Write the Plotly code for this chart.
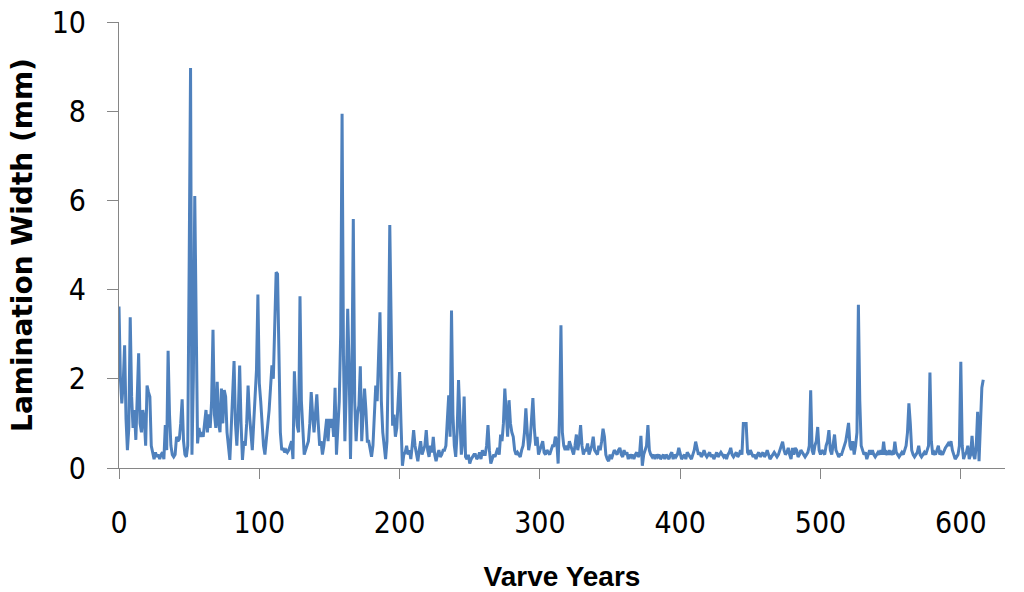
import plotly.graph_objects as go

# Lamination width (mm) per varve year
width_0_99 = [
    3.62, 2.0, 1.45, 1.9, 2.75, 1.1, 0.4, 0.9, 3.38, 1.6,
    0.9, 1.3, 0.63, 1.7, 2.57, 1.0, 0.8, 1.3, 1.1, 0.5,
    1.85, 1.7, 1.6, 0.5, 0.3, 0.2, 0.35, 0.25, 0.3, 0.2,
    0.3, 0.35, 0.2, 0.96, 0.4, 2.63, 1.2, 0.5, 0.3, 0.25,
    0.3, 0.7, 0.6, 0.65, 1.0, 1.54, 0.6, 0.3, 0.25, 0.5,
    4.5, 8.97, 0.3, 2.0, 6.1, 3.64, 0.55, 0.9, 0.7, 0.8,
    0.7, 1.0, 1.3, 0.8, 1.2, 0.9, 1.5, 3.1, 1.2, 0.9,
    1.93, 1.0, 0.8, 1.78, 1.0, 1.75, 1.6, 0.8, 0.5, 0.18,
    0.9, 1.5, 2.4, 1.0, 0.5, 1.2, 2.3, 1.0, 0.18, 0.6,
    0.5, 1.0, 1.85, 1.2, 0.8, 0.4, 1.0, 1.5, 2.2, 3.89,
]
width_100_199 = [
    1.9, 1.5, 1.0, 0.5, 0.3, 0.6, 1.0, 1.3, 1.8, 2.3,
    2.0, 3.0, 4.39, 4.35, 2.5, 0.8, 0.4, 0.45, 0.35, 0.4,
    0.35, 0.4, 0.5, 0.6, 0.2, 2.17, 1.4, 0.95, 0.8, 3.85,
    1.5, 0.8, 0.3, 0.4, 0.5, 0.6, 1.0, 1.7, 1.2, 0.8,
    1.2, 1.65, 1.0, 0.5, 0.6, 0.3, 0.5, 0.8, 1.1, 0.6,
    1.1, 0.9, 1.1, 0.7, 1.8, 0.3, 0.8, 1.5, 3.0, 7.94,
    2.5, 0.6, 1.8, 3.57, 2.3, 0.2, 2.0, 5.58, 1.5, 0.6,
    1.2, 1.4, 2.28, 0.6, 1.2, 1.78, 1.3, 0.6, 0.6, 0.4,
    0.25, 0.5, 1.2, 1.85, 1.5, 2.5, 3.49, 1.5, 0.8, 0.5,
    0.2, 0.6, 2.5, 5.45, 2.9, 0.95, 1.2, 0.7, 0.9, 1.5,
]
width_200_299 = [
    2.15, 1.0, 0.05, 0.3, 0.35, 0.5, 0.3, 0.4, 0.2, 0.5,
    0.85, 0.5, 0.3, 0.15, 0.4, 0.6, 0.3, 0.4, 0.5, 0.85,
    0.4, 0.25, 0.5, 0.35, 0.7, 0.3, 0.15, 0.3, 0.4, 0.25,
    0.3, 0.4, 0.4, 0.5, 1.0, 1.63, 0.7, 3.53, 1.2, 0.5,
    0.25, 0.8, 1.97, 1.0, 0.3, 0.6, 1.6, 0.25, 0.2, 0.3,
    0.1, 0.2, 0.25, 0.3, 0.3, 0.2, 0.25, 0.35, 0.2, 0.4,
    0.3, 0.3, 0.5, 0.96, 0.4, 0.1, 0.2, 0.3, 0.25, 0.35,
    0.45, 0.3, 0.75, 0.6, 1.0, 1.78, 1.1, 0.7, 1.52, 1.0,
    0.8, 0.7, 0.4, 0.3, 0.35, 0.3, 0.25, 0.4, 0.5, 0.8,
    1.34, 0.8, 0.4, 0.6, 1.0, 1.57, 0.9, 0.5, 0.7, 0.3,
]
width_300_399 = [
    0.4, 0.5, 0.6, 0.35, 0.3, 0.4, 0.35, 0.3, 0.4, 0.5,
    0.5, 0.7, 0.6, 0.1, 1.2, 3.2, 0.8, 0.5, 0.4, 0.5,
    0.4, 0.6, 0.5, 0.4, 0.3, 0.5, 0.75, 0.4, 0.6, 0.96,
    0.5, 0.3, 0.4, 0.4, 0.55, 0.3, 0.4, 0.5, 0.7, 0.4,
    0.35, 0.3, 0.5, 0.4, 0.6, 0.88, 0.7, 0.3, 0.2, 0.15,
    0.3, 0.2, 0.3, 0.4, 0.35, 0.3, 0.4, 0.45, 0.3, 0.25,
    0.4, 0.3, 0.35, 0.2, 0.3, 0.25, 0.3, 0.2, 0.3, 0.35,
    0.25, 0.3, 0.72, 0.05, 0.3, 0.4, 0.5, 0.96, 0.4, 0.3,
    0.25, 0.3, 0.2, 0.3, 0.25, 0.3, 0.2, 0.25, 0.3, 0.2,
    0.3, 0.25, 0.2, 0.3, 0.35, 0.2, 0.3, 0.25, 0.3, 0.45,
]
width_400_499 = [
    0.3, 0.2, 0.25, 0.3, 0.2, 0.35, 0.3, 0.25, 0.2, 0.3,
    0.4, 0.59, 0.45, 0.3, 0.35, 0.25, 0.3, 0.4, 0.3, 0.25,
    0.3, 0.35, 0.25, 0.3, 0.2, 0.3, 0.35, 0.25, 0.3, 0.35,
    0.3, 0.25, 0.3, 0.2, 0.3, 0.35, 0.45, 0.3, 0.25, 0.3,
    0.35, 0.25, 0.3, 0.4, 0.3, 1.0, 1.0, 1.0, 0.35, 0.3,
    0.4, 0.3, 0.25, 0.3, 0.2, 0.3, 0.35, 0.25, 0.3, 0.35,
    0.25, 0.3, 0.4, 0.3, 0.2, 0.25, 0.3, 0.35, 0.3, 0.25,
    0.3, 0.4, 0.45, 0.59, 0.4, 0.3, 0.35, 0.45, 0.3, 0.2,
    0.45, 0.3, 0.45, 0.4, 0.25, 0.3, 0.4, 0.35, 0.3, 0.25,
    0.3, 0.35, 0.5, 1.74, 0.4, 0.3, 0.5, 0.6, 0.92, 0.4,
]
width_500_616 = [
    0.3, 0.4, 0.35, 0.3, 0.5, 0.6, 0.85, 0.4, 0.3, 0.5,
    0.75, 0.4, 0.3, 0.25, 0.3, 0.3, 0.4, 0.5, 0.6, 0.8,
    1.01, 0.5, 0.4, 0.6, 0.3, 0.5, 0.8, 3.66, 1.5, 0.5,
    0.4, 0.3, 0.35, 0.2, 0.3, 0.4, 0.3, 0.4, 0.3, 0.25,
    0.3, 0.35, 0.3, 0.4, 0.3, 0.59, 0.3, 0.35, 0.3, 0.4,
    0.3, 0.35, 0.3, 0.59, 0.35, 0.3, 0.25, 0.3, 0.35, 0.3,
    0.4, 0.5, 0.8, 1.45, 1.0, 0.4, 0.3, 0.25, 0.3, 0.35,
    0.5, 0.3, 0.25, 0.3, 0.35, 0.3, 0.4, 0.5, 2.14, 0.6,
    0.3, 0.35, 0.3, 0.4, 0.5, 0.3, 0.35, 0.3, 0.4, 0.45,
    0.5, 0.55, 0.5, 0.6, 0.4, 0.3, 0.2, 0.25, 0.3, 0.5,
    2.38, 0.5, 0.2, 0.3, 0.35, 0.5, 0.2, 0.3, 0.72, 0.3,
    0.2, 0.5, 1.26, 0.15, 1.2, 1.8, 1.98,
]

lamination_width = (width_0_99 + width_100_199 + width_200_299
                     + width_300_399 + width_400_499 + width_500_616)
varve_years = list(range(len(lamination_width)))

x_tick_values = [0, 100, 200, 300, 400, 500, 600]
y_tick_values = [0, 2, 4, 6, 8, 10]

TICK_FONT = "DejaVu Sans Condensed, Liberation Sans Narrow, sans-serif"
AXIS_COLOR = "#868686"

fig = go.Figure()
fig.add_trace(go.Scatter(
    x=varve_years,
    y=lamination_width,
    mode="lines",
    line=dict(color="#4F81BD", width=3),
    showlegend=False,
))

fig.update_layout(
    width=1024,
    height=592,
    margin=dict(l=119, r=19, t=22, b=124),
    paper_bgcolor="white",
    plot_bgcolor="white",
    xaxis=dict(
        range=[0, 631.5],
        tickvals=x_tick_values,
        ticks="outside",
        ticklen=10,
        tickcolor=AXIS_COLOR,
        showline=True,
        linecolor=AXIS_COLOR,
        linewidth=1,
        showgrid=False,
        zeroline=False,
        automargin=False,
        tickfont=dict(family=TICK_FONT, size=30, color="#000000"),
        ticklabelstandoff=18,
        title=dict(text="<b>Varve Years</b>",
                   font=dict(family="Liberation Sans, Arial, sans-serif",
                             size=28, color="#000000"),
                   standoff=27),
    ),
    yaxis=dict(
        range=[0, 10],
        tickvals=y_tick_values,
        ticks="outside",
        ticklen=11,
        tickcolor=AXIS_COLOR,
        showline=True,
        linecolor=AXIS_COLOR,
        linewidth=1,
        showgrid=False,
        zeroline=False,
        automargin=False,
        tickfont=dict(family=TICK_FONT, size=30, color="#000000"),
        ticklabelstandoff=15,
        title=dict(text="<b>Lamination Width (mm)</b>",
                   font=dict(family="DejaVu Sans, sans-serif",
                             size=28, color="#000000"),
                   standoff=10),
    ),
)

fig.write_html("out.html")
